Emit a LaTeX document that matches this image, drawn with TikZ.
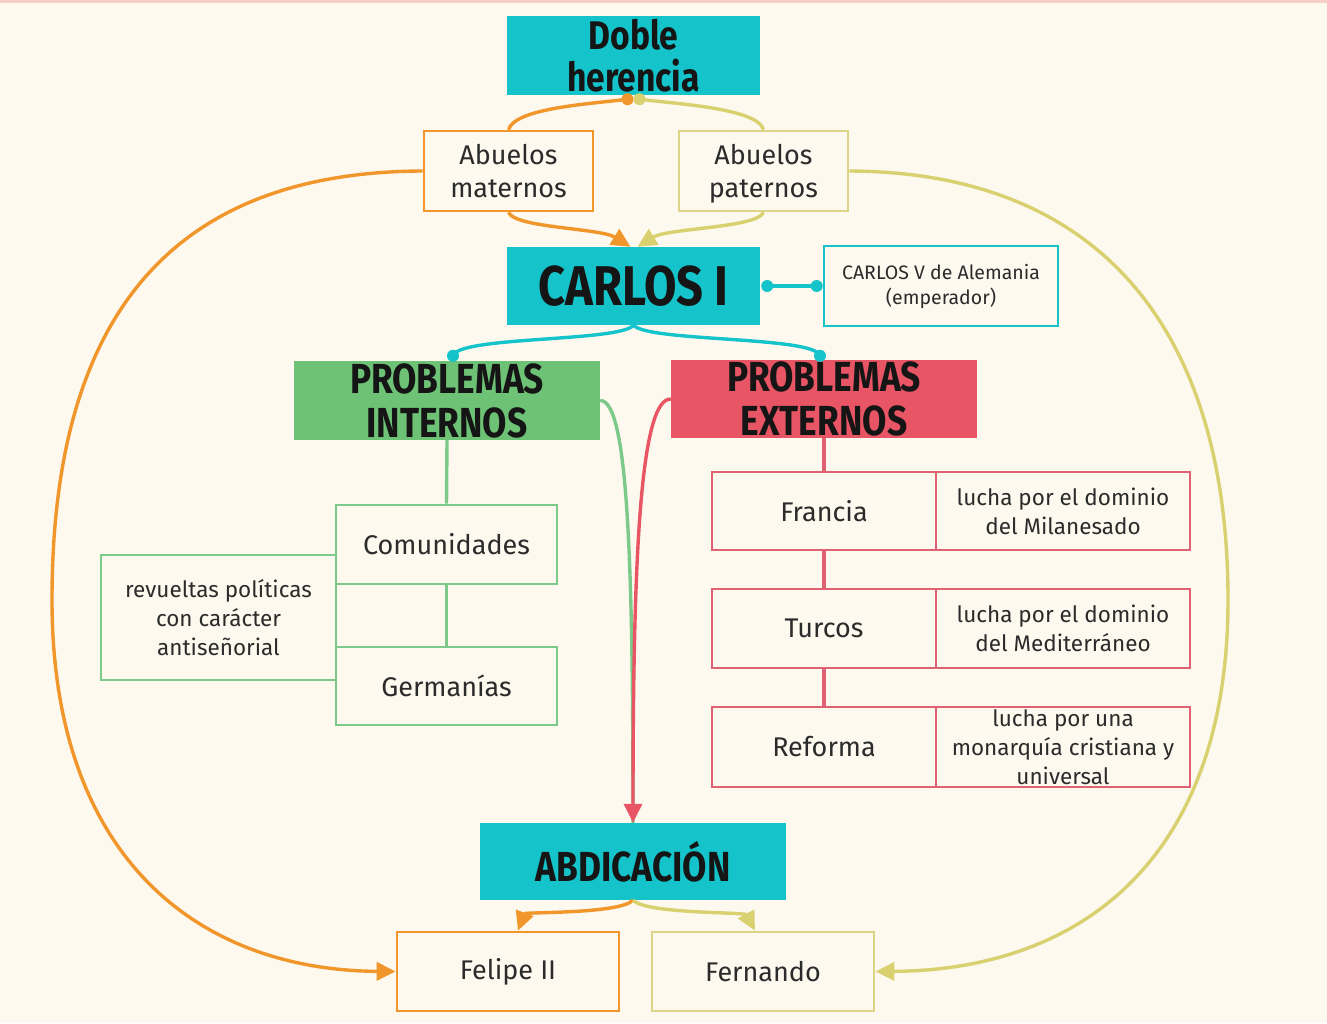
\documentclass[tikz,border=0pt]{standalone}
\usepackage{fontspec}
\usepackage{graphicx}
\setmainfont{Fira Sans}
\usetikzlibrary{arrows.meta,calc}
\definecolor{bg}{HTML}{FEF9EF}
\definecolor{topline}{HTML}{F6CFC6}
\definecolor{cy}{HTML}{14C4CA}
\definecolor{gr}{HTML}{6DC276}
\definecolor{grl}{HTML}{7CC98A}
\definecolor{rd}{HTML}{E85565}
\definecolor{rdl}{HTML}{DE6272}
\definecolor{org}{HTML}{F0962B}
\definecolor{yel}{HTML}{D9D070}
\definecolor{yelb}{HTML}{DDD585}
\definecolor{txt}{HTML}{2B2B2B}
\definecolor{htxt}{HTML}{151515}
\newcommand{\sx}[1]{\scalebox{0.84}[1]{#1}}
\tikzset{
  base/.style={rectangle, inner sep=0pt, align=center, text=txt},
  head/.style={base, text=htxt, font=\fontsize{42}{44}\selectfont\bfseries},
  cybox/.style={head, fill=cy},
  plain/.style={base, font=\fontsize{27}{33}\selectfont, line width=2.7pt, fill=bg},
  desc/.style={base, font=\fontsize{22.5}{29}\selectfont, line width=1.5pt},
  conn/.style={line width=3.4pt},
  tip/.style={-{Triangle[length=19pt,width=18pt]}},
  dot/.style={circle, inner sep=0pt, minimum size=12pt, fill=#1}
}
\begin{document}
\begin{tikzpicture}[x=1pt,y=1pt]
\useasboundingbox (0,0) rectangle (1327,-1023);
\fill[bg] (0,0) rectangle (1327,-1023);
\fill[topline] (0,0) rectangle (1327,-2.5);

% nodes
\node[cybox, minimum width=253pt, minimum height=79pt, font=\fontsize{40}{42}\selectfont\bfseries] (dh) at (633.5,-55.5) {\sx{Doble}\\\sx{herencia}};
\node[plain, draw=org, minimum width=169pt, minimum height=80pt] (am) at (508.5,-171) {Abuelos\\maternos};
\node[plain, draw=yelb, minimum width=169pt, minimum height=80pt] (ap) at (763.5,-171) {Abuelos\\\raisebox{0pt}[\height][0pt]{paternos}};
\node[cybox, minimum width=253pt, minimum height=78pt, font=\fontsize{56}{56}\selectfont\bfseries] (c1) at (633.5,-286) {\sx{CARLOS I}};
\node[desc, draw=cy, line width=2.6pt, font=\fontsize{19.5}{25}\selectfont, minimum width=234pt, minimum height=80pt] (cv) at (941,-286) {CARLOS V de Alemania\\(emperador)};
\node[head, fill=gr, minimum width=306pt, minimum height=79pt] (pi) at (447,-400.5) {\sx{PROBLEMAS}\\\sx{INTERNOS}};
\node[head, fill=rd, minimum width=306pt, minimum height=78pt] (pe) at (824,-399) {\sx{PROBLEMAS}\\\sx{EXTERNOS}};

\node[desc, draw=grl, minimum width=235pt, minimum height=125pt] (rev) at (218.5,-617.5) {revueltas políticas\\con carácter\\antiseñorial};
\node[plain, draw=grl, minimum width=221pt, minimum height=79pt] (com) at (446.5,-544.5) {Comunidades};
\node[plain, draw=grl, minimum width=221pt, minimum height=78pt] (ger) at (446.5,-686) {Germanías};

\node[desc, draw=rdl, minimum width=254pt, minimum height=78pt] (frd) at (1063,-511) {lucha por el dominio\\del Milanesado};
\node[desc, draw=rdl, minimum width=254pt, minimum height=79pt] (tud) at (1063,-628.5) {lucha por el dominio\\del Mediterráneo};
\node[desc, draw=rdl, minimum width=254pt, minimum height=80pt] (red) at (1063,-747) {lucha por una\\monarquía cristiana y\\universal};
\node[plain, draw=rdl, minimum width=224pt, minimum height=78pt] (fr) at (824,-511) {Francia};
\node[plain, draw=rdl, minimum width=224pt, minimum height=79pt] (tu) at (824,-628.5) {Turcos};
\node[plain, draw=rdl, minimum width=224pt, minimum height=80pt] (re) at (824,-747) {Reforma};

\node[cybox, minimum width=306pt, minimum height=77pt] (ab) at (633,-861.5) {\sx{ABDICACIÓN}};
\node[plain, draw=org, minimum width=222pt, minimum height=79pt] (fe) at (508,-971.5) {Felipe II};
\node[plain, draw=yelb, minimum width=222pt, minimum height=79pt] (fn) at (763,-971.5) {Fernando};

% dots
\node[dot=org] (dho) at ($(dh.south)+(-6,-4)$) {};
\node[dot=yel] (dhy) at ($(dh.south)+(6,-4)$) {};
\node[dot=cy] (c1r) at ($(c1.east)+(7,0)$) {};
\node[dot=cy] (cvl) at ($(cv.west)+(-6,0)$) {};
\node[dot=cy] (pit) at ($(pi.north)+(6,5)$) {};
\node[dot=cy] (pet) at ($(pe.north)+(-4,4)$) {};

% top connectors
\draw[conn, org] (dho.center) .. controls (590,-104) and (515,-108) .. (am.north);
\draw[conn, yel] (dhy.center) .. controls (676,-104) and (757,-108) .. (ap.north);
\draw[conn, org, tip] (am.south) .. controls (515,-228) and (600,-228) .. ($(c1.north)+(-3,0)$);
\draw[conn, yel, tip] (ap.south) .. controls (757,-228) and (668,-228) .. ($(c1.north)+(4,0)$);
\draw[conn, cy] (c1r.center) -- (cvl.center);
\draw[conn, cy] (c1.south) .. controls (620,-342) and (458,-336) .. (pit.center);
\draw[conn, cy] (c1.south) .. controls (648,-342) and (815,-336) .. (pet.center);

% internal / external chains
\draw[conn, grl] (pi.south) -- (com.north);
\draw[conn, grl] (com.south) -- (ger.north);
\draw[conn, rdl] (pe.south) -- (fr.north);
\draw[conn, rdl] (fr.south) -- (tu.north);
\draw[conn, rdl] (tu.south) -- (re.north);

% to abdication
\draw[conn, grl] (pi.east) .. controls (628,-400) and (633,-560) .. (ab.north);
\draw[conn, rd, tip] (pe.west) .. controls (640,-398) and (633,-560) .. (ab.north);

% abdication to heirs
\draw[conn, org, tip] (ab.south) .. controls (620,-914) and (525,-912) .. ($(fe.north)+(10,0)$);
\draw[conn, yel, tip] (ab.south) .. controls (646,-914) and (745,-912) .. ($(fn.north)+(-8,0)$);

% big arcs
\draw[conn, org, tip] (am.west) .. controls (160,-172) and (52,-330) .. (52,-600) .. controls (52,-860) and (200,-970) .. (fe.west);
\draw[conn, yel, tip] (ap.east) .. controls (1100,-172) and (1228,-330) .. (1228,-600) .. controls (1228,-860) and (1080,-970) .. (fn.east);
\end{tikzpicture}
\end{document}
